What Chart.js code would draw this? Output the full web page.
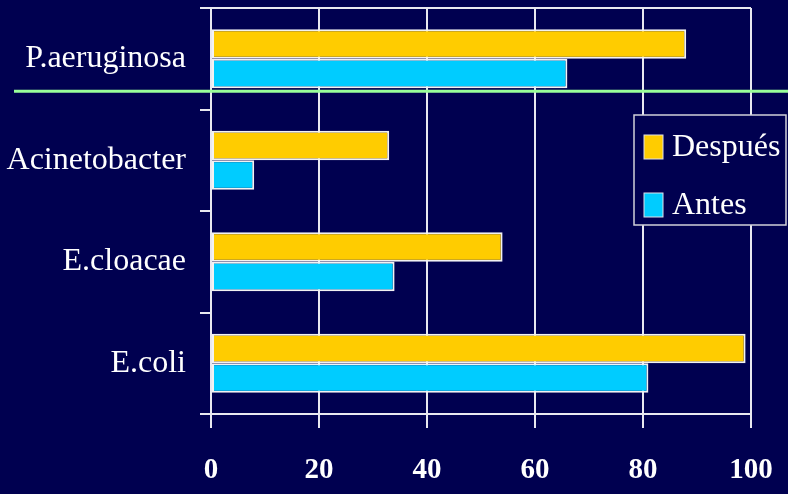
<!DOCTYPE html>
<html>
<head>
<meta charset="utf-8">
<script src="https://cdn.jsdelivr.net/npm/chart.js"></script>
<style>
  html, body { margin: 0; padding: 0; background: #000050; }
  #wrap { width: 788px; height: 494px; position: relative; }
</style>
</head>
<body>
<div id="wrap"><canvas id="resist"></canvas></div>
<script>
var categories = ["P.aeruginosa", "Acinetobacter", "E.cloacae", "E.coli"];
var despues = [88, 33, 54, 99];
var antes = [66, 8, 34, 81];
var xTicks = [0, 20, 40, 60, 80, 100];

var navy = "#000050";
var lineColor = "#e8e8f0";

// frame top line + green separator + boxed legend
var decor = {
    id: "decor",
    beforeDatasetsDraw: function(chart) {
        var ctx = chart.ctx, a = chart.chartArea;
        ctx.save();
        ctx.strokeStyle = lineColor;
        ctx.lineWidth = 2;
        ctx.beginPath();
        ctx.moveTo(a.left, a.top);
        ctx.lineTo(a.right, a.top);
        ctx.stroke();
        ctx.restore();
    },
    afterDraw: function(chart) {
        var ctx = chart.ctx;
        var y = chart.scales.y.getPixelForValue(0.32);
        ctx.save();
        ctx.strokeStyle = "#99ff99";
        ctx.lineWidth = 3;
        ctx.beginPath();
        ctx.moveTo(14, y);
        ctx.lineTo(788, y);
        ctx.stroke();

        // legend
        ctx.fillStyle = navy;
        ctx.fillRect(634, 115, 152, 110);
        ctx.strokeStyle = "#d0d0d8";
        ctx.lineWidth = 1.5;
        ctx.strokeRect(634, 115, 152, 110);
        ctx.font = "32px 'Liberation Serif', serif";
        ctx.textBaseline = "middle";
        chart.data.datasets.forEach(function(ds, i) {
            var cy = 147 + i * 58;
            ctx.fillStyle = ds.backgroundColor;
            ctx.fillRect(644, cy - 12, 19, 24);
            ctx.strokeStyle = "#e0e0e8";
            ctx.lineWidth = 1;
            ctx.strokeRect(644, cy - 12, 19, 24);
            ctx.fillStyle = "#ffffff";
            ctx.fillText(ds.label, 672, cy + 1);
        });
        ctx.restore();
    }
};

var chart = new Chart(document.getElementById("resist"), {
    type: "bar",
    data: {
        labels: categories,
        datasets: [{
            label: "Después",
            data: despues,
            backgroundColor: "#ffcc00",
            borderColor: "#f2f2f2",
            borderWidth: 2,
            borderSkipped: false
        }, {
            label: "Antes",
            data: antes,
            backgroundColor: "#00ccff",
            borderColor: "#f2f2f2",
            borderWidth: 2,
            borderSkipped: false
        }]
    },
    options: {
        indexAxis: "y",
        responsive: true,
        maintainAspectRatio: false,
        animation: false,
        layout: { padding: { top: 8, right: 37, left: 0, bottom: 0 } },
        datasets: { bar: { categoryPercentage: 0.58, barPercentage: 1 } },
        plugins: {
            legend: { display: false },
            tooltip: { enabled: false }
        },
        scales: {
            x: {
                min: 0,
                max: 100,
                afterBuildTicks: function(s) { s.ticks = xTicks.map(function(v) { return { value: v }; }); },
                afterFit: function(s) {
                    s.height = 80;
                    s.paddingLeft = 0; s.paddingRight = 0;
                    s.paddingTop = 0; s.paddingBottom = 0;
                },
                grid: { color: lineColor, lineWidth: 2, tickLength: 14, drawOnChartArea: true },
                border: { color: lineColor, width: 2 },
                ticks: {
                    color: "#ffffff",
                    padding: 25,
                    font: { family: "'Liberation Serif', serif", size: 29, weight: "bold" }
                }
            },
            y: {
                afterFit: function(s) {
                    s.width = 211;
                    s.paddingLeft = 0; s.paddingRight = 0;
                    s.paddingTop = 0; s.paddingBottom = 0;
                },
                grid: { offset: true, color: lineColor, lineWidth: 2, tickLength: 11, drawOnChartArea: false },
                border: { color: lineColor, width: 2 },
                ticks: {
                    color: "#ffffff",
                    padding: 14,
                    font: { family: "'Liberation Serif', serif", size: 32 }
                }
            }
        }
    },
    plugins: [decor]
});
</script>
</body>
</html>
